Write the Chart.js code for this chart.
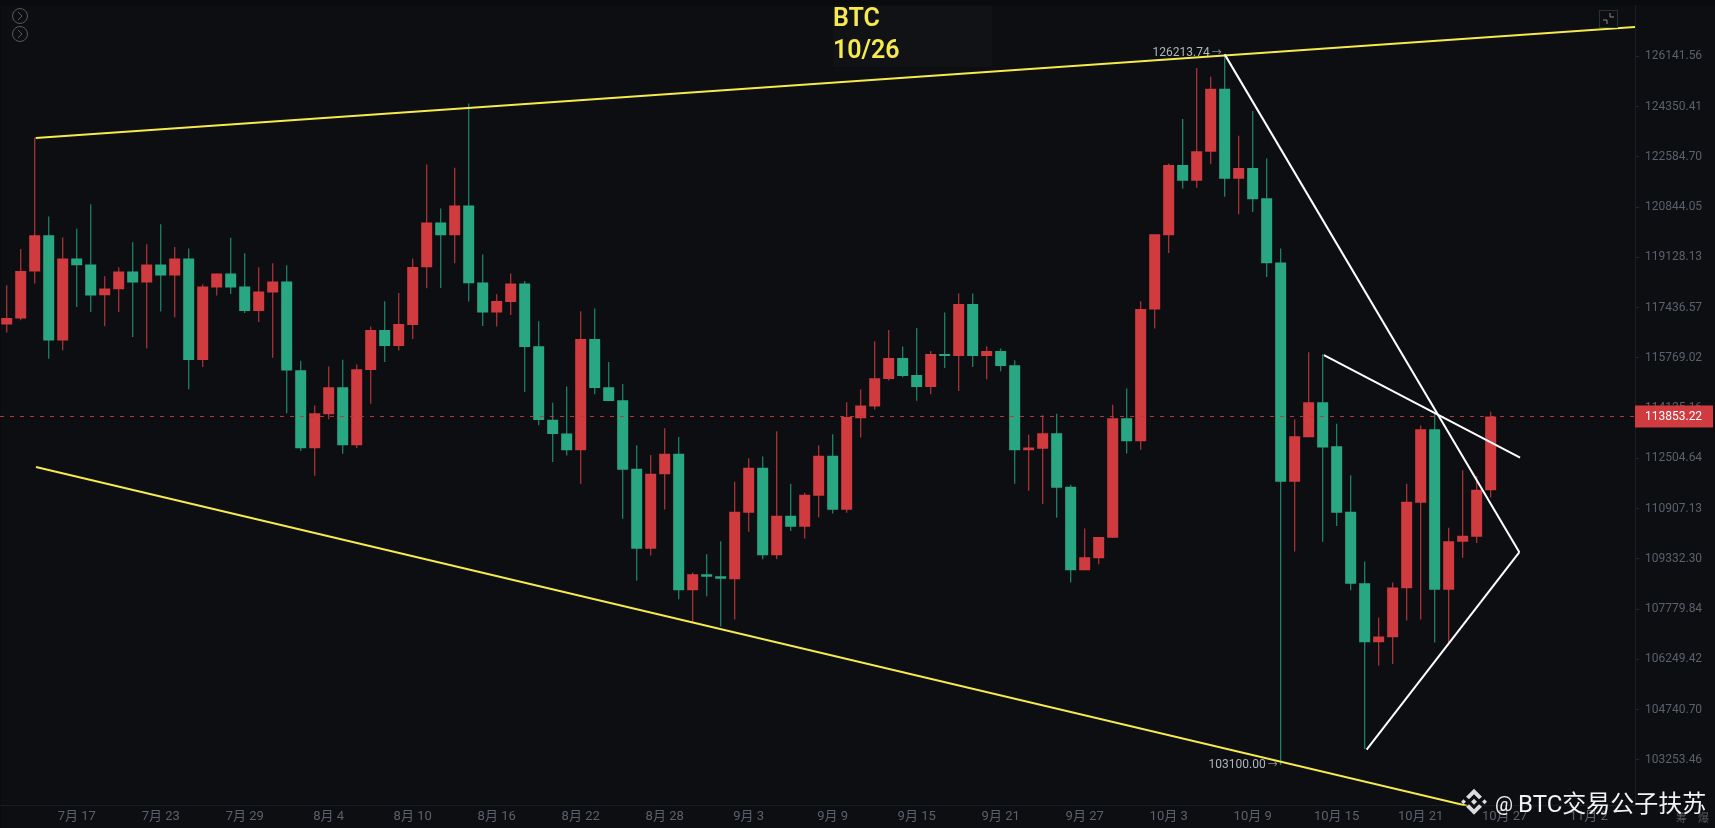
<!DOCTYPE html>
<html>
<head>
<meta charset="utf-8">
<title>BTC 10/26</title>
<script src="https://cdn.jsdelivr.net/npm/chart.js@4/dist/chart.umd.min.js"></script>
<style>
  html, body { margin: 0; padding: 0; background: #0a0b0d; overflow: hidden; }
  canvas { display: block; }
</style>
</head>
<body>
<canvas id="chart" width="1715" height="828"></canvas>
<script>
// daily candles, 7/12 to 10/26 (index 0 = 7/12)
const opens = [
  116872,117072,118650,119884,116341,119088,118885,117851,118053,118650,
  118279,118885,118515,119088,115697,118110,118582,118144,117324,117942,
  118312,115360,112824,113922,114803,112921,115369,116693,116161,116859,
  118794,120318,119884,120900,118279,117271,117625,118245,116150,113750,
  113299,112760,116394,114803,114377,112174,109646,111993,112653,108361,
  108856,108794,108700,110775,112206,109445,110681,110336,111315,112588,
  110869,113793,114180,115075,115762,115206,114813,115895,115829,117558,
  115829,115995,115523,112760,112814,113308,111601,108979,109351,109988,
  113793,113050,117371,119884,122297,121753,122761,124986,121822,122193,
  121152,118953,111760,113179,114312,112889,110807,108577,106768,106921,
  108423,111092,113437,108373,109866,110022,111484
];
const closes = [
  117091,118670,119884,116341,119088,118862,117841,118077,118650,118279,
  118885,118515,119088,115697,118144,118582,118110,117324,117975,118312,
  115350,112824,113954,114803,112921,115392,116693,116161,116892,118804,
  120318,119884,120900,118255,117271,117659,118245,116128,113738,113286,
  112760,116394,114780,114354,112142,109646,112015,112653,108361,108856,
  108775,108713,110807,112206,109445,110681,110336,111346,112588,110869,
  113834,114213,115098,115762,115173,114813,115895,115829,117558,115829,
  115995,115500,112760,112856,113308,111569,108979,109382,110010,113793,
  113050,117390,119918,122297,121753,122785,124986,121822,122193,121118,
  118929,111760,113211,114312,112856,110775,108559,106768,106942,108444,
  111124,113437,108373,109884,110054,111506,113853.22
];
const highs = [
  118188,119415,123253,120523,119805,120099,120945,118491,118794,119644,
  119576,120260,119484,119429,118221,118582,119791,119268,118794,118929,
  118862,115677,114213,115481,115710,115546,116806,117649,117928,119088,
  122321,120796,122204,124465,119224,117884,118582,118333,116982,114302,
  114826,117314,117404,115631,114911,112921,112608,113470,113189,108908,
  109477,109884,111760,112511,112566,113373,111697,111410,112921,113276,
  114312,114728,116317,116693,116141,116759,115995,117271,117908,117908,
  116150,116075,115687,113266,113889,113944,111665,110283,110010,114236,
  114760,117649,119918,122356,123910,125725,125414,126213.74,123323,124192,
  122530,119429,113751,115952,115886,113621,111961,109248,107521,108599,
  111697,113557,113922,110305,112120,111939,114009
];
const lows = [
  116606,117015,118245,115743,116018,117456,117291,116816,117291,116460,
  116075,117304,117115,114737,115468,117841,117895,117258,116959,115776,
  113954,112737,111951,113760,112653,112834,114269,115631,116009,116394,
  118087,118097,118929,117638,116826,116806,117191,114649,113567,112384,
  112598,111684,114574,114354,110587,108652,109436,110879,108082,107378,
  108175,107247,107460,110179,109320,109320,110198,109969,110637,110753,
  110775,113170,114083,115022,115130,114367,114574,115435,114682,115468,
  115065,115327,111697,111474,111048,110618,108599,108979,109165,109988,
  112663,112782,116739,119279,121476,121510,122332,121198,120601,120680,
  118467,103100,109561,113179,109866,110355,108361,103574,106060,106111,
  107429,107460,106759,106698,109363,109822,111261
];

const priceTicks = [
  126141.56,124350.41,122584.70,120844.05,119128.13,117436.57,115769.02,114125.16,
  112504.64,110907.13,109332.30,107779.84,106249.42,104740.70,103253.46
];
const dateTicks = [5,11,17,23,29,35,41,47,53,59,65,71,77,83,89,95,101,107,113];
const dateLabels = [
  "7月 17","7月 23","7月 29","8月 4","8月 10","8月 16","8月 22","8月 28","9月 3","9月 9",
  "9月 15","9月 21","9月 27","10月 3","10月 9","10月 15","10月 21","10月 27","11月 2"
];

// drawn trend lines, as [candle index, price]
const upperLine = [[2.07,123242],[116.31,127197]];
const lowerLine = [[2.09,112225],[104.29,101912]];
const fallLine = [[87,126213.74],[108.05,109539]];
const pennantTop = [[94.09,115862],[108.1,112524]];
const pennantBottom = [[97.14,103553],[108.05,109539]];

const lastPrice = 113853.22;
const topLabel = 126213.74;
const bottomLabel = 103100.00;

const UP = "#d03b3f";
const DOWN = "#29a782";
const UP_WICK = "#a83236";
const DOWN_WICK = "#1f8066";
const BG = "#0c0e11";
const YELLOW = "#f6ea4e";
const GREY = "#5b616b";
const FONT = 'Roboto, "Noto Sans CJK SC", sans-serif';

const points = arr => arr.map(p => ({ x: p[0], y: p[1] }));
const candleColor = ctx => (closes[ctx.dataIndex] >= opens[ctx.dataIndex] ? UP : DOWN);
const wickColor = ctx => (closes[ctx.dataIndex] >= opens[ctx.dataIndex] ? UP_WICK : DOWN_WICK);

function trendLine(arr, color, order) {
  return {
    type: "line",
    data: points(arr),
    borderColor: color,
    borderWidth: 2,
    pointRadius: 0,
    order: order
  };
}

// background, title plate and everything that sits on top of the scales
const extras = {
  id: "extras",
  beforeDraw(chart) {
    const { ctx, chartArea } = chart;
    ctx.save();
    ctx.fillStyle = BG;
    ctx.fillRect(chartArea.left + 1, chartArea.top, 1715, chart.height);
    ctx.fillStyle = "#101215";
    ctx.fillRect(833, 6, 159, 61);
    ctx.restore();
  },
  afterDraw(chart) {
    const { ctx, scales } = chart;
    const x = scales.x, y = scales.y;
    ctx.save();

    // title
    ctx.fillStyle = YELLOW;
    ctx.font = '600 25px ' + FONT;
    ctx.textAlign = "left";
    ctx.textBaseline = "alphabetic";
    ctx.fillText("BTC", 833, 26);
    ctx.fillText("10/26", 833, 57.5);

    // high and low labels, text and arrow apart
    const priceLabel = (value, i, dy) => {
      const px = x.getPixelForValue(i), py = y.getPixelForValue(value) + dy;
      ctx.textAlign = "right";
      ctx.textBaseline = "middle";
      ctx.font = '12px ' + FONT;
      ctx.fillStyle = "#aeb4bc";
      ctx.fillText(value.toFixed(2), px - 15, py);
      ctx.font = '10px ' + FONT;
      ctx.fillStyle = "#8a8f96";
      ctx.fillText("→", px - 3, py);
    };
    priceLabel(topLabel, 87, -1);
    priceLabel(bottomLabel, 91, 0);

    // last price tag
    const tagY = y.getPixelForValue(lastPrice);
    ctx.fillStyle = UP;
    ctx.fillRect(1635, tagY - 11, 78, 22);
    ctx.fillStyle = "#ffffff";
    ctx.font = '12px ' + FONT;
    ctx.textAlign = "left";
    ctx.fillText(lastPrice.toFixed(2), 1645, tagY + 0.5);

    // top left buttons
    ctx.strokeStyle = "#55585d";
    ctx.lineWidth = 1;
    [16, 34].forEach(cy => {
      ctx.beginPath();
      ctx.arc(20, cy, 7.5, 0, Math.PI * 2);
      ctx.stroke();
      ctx.beginPath();
      ctx.moveTo(18, cy - 4);
      ctx.lineTo(22, cy);
      ctx.lineTo(18, cy + 4);
      ctx.stroke();
    });

    // collapse icon
    ctx.strokeStyle = "#22333b";
    ctx.strokeRect(1599.5, 10.5, 18, 17);
    ctx.strokeStyle = "#8a8a80";
    ctx.beginPath();
    ctx.moveTo(1603, 20);
    ctx.lineTo(1607, 20);
    ctx.lineTo(1607, 24);
    ctx.moveTo(1610, 13);
    ctx.lineTo(1610, 17);
    ctx.lineTo(1614, 17);
    ctx.stroke();

    // bottom right tabs
    ctx.fillStyle = "#55585d";
    ctx.font = '11px "Noto Sans CJK SC"';
    ctx.fillText("筹", 1676, 818);
    ctx.fillText("爆", 1698, 818);

    // watermark
    ctx.fillStyle = "#dcdcdc";
    const lx = 1474, ly = 801.7;
    const diamond = (cx, cy, r) => {
      ctx.beginPath();
      ctx.moveTo(cx, cy - r);
      ctx.lineTo(cx + r, cy);
      ctx.lineTo(cx, cy + r);
      ctx.lineTo(cx - r, cy);
      ctx.closePath();
      ctx.fill();
    };
    diamond(lx, ly, 3);
    diamond(lx - 10.5, ly, 2.5);
    diamond(lx + 10.5, ly, 2.5);
    [-1, 1].forEach(s => {
      ctx.beginPath();
      ctx.moveTo(lx, ly + s * 13);
      ctx.lineTo(lx + 8, ly + s * 5);
      ctx.lineTo(lx + 5, ly + s * 2.5);
      ctx.lineTo(lx, ly + s * 7.5);
      ctx.lineTo(lx - 5, ly + s * 2.5);
      ctx.lineTo(lx - 8, ly + s * 5);
      ctx.closePath();
      ctx.fill();
    });
    ctx.fillStyle = "#f2f2f2";
    ctx.textAlign = "left";
    ctx.textBaseline = "alphabetic";
    ctx.font = '20px Roboto';
    ctx.fillText("@", 1495, 810.5);
    ctx.font = '24px Roboto, "Noto Sans CJK SC"';
    ctx.fillText("BTC交易公子扶苏", 1518, 811.5);
    ctx.restore();
  }
};

// tick labels near the edges must not eat into the plot area
function noEdgePadding(scale) {
  scale.paddingTop = 0;
  scale.paddingBottom = 0;
  scale.paddingLeft = 0;
  scale.paddingRight = 0;
}

new Chart(document.getElementById("chart"), {
  type: "bar",
  data: {
    datasets: [
      {
        data: lows.map((l, i) => ({ x: i, y: [l, highs[i]] })),
        backgroundColor: wickColor,
        barThickness: 1.3,
        grouped: false,
        inflateAmount: 0,
        order: 5
      },
      {
        data: opens.map((o, i) => ({ x: i, y: [o, closes[i]] })),
        backgroundColor: candleColor,
        barThickness: 11,
        minBarLength: 2,
        grouped: false,
        inflateAmount: 0,
        order: 4
      },
      {
        type: "line",
        data: [{ x: -0.48, y: lastPrice }, { x: 116.31, y: lastPrice }],
        borderColor: "#c0363a",
        borderWidth: 1,
        borderDash: [4, 6],
        pointRadius: 0,
        order: 3
      },
      trendLine(upperLine, YELLOW, 2),
      trendLine(lowerLine, YELLOW, 2),
      trendLine(fallLine, "#ffffff", 1),
      trendLine(pennantTop, "#ffffff", 1),
      trendLine(pennantBottom, "#ffffff", 1)
    ]
  },
  options: {
    responsive: false,
    animation: false,
    layout: { padding: { top: 5, left: 0, right: 0, bottom: 0 } },
    plugins: { legend: { display: false }, tooltip: { enabled: false }, title: { display: false } },
    scales: {
      x: {
        type: "linear",
        offset: false,
        min: -0.479,
        max: 116.31,
        afterBuildTicks: scale => { scale.ticks = dateTicks.map(v => ({ value: v })); },
        afterFit: scale => { scale.height = 22.3; noEdgePadding(scale); },
        grid: { display: false, drawTicks: false, offset: false },
        border: { color: "#1a1d21" },
        ticks: {
          autoSkip: false,
          maxRotation: 0,
          padding: 3,
          color: GREY,
          font: { family: FONT, size: 13 },
          callback: v => dateLabels[dateTicks.indexOf(v)]
        }
      },
      y: {
        type: "logarithmic",
        position: "right",
        min: 101913,
        max: 128000,
        afterBuildTicks: scale => { scale.ticks = priceTicks.map(v => ({ value: v })); },
        afterFit: scale => { scale.width = 80; noEdgePadding(scale); },
        grid: { drawOnChartArea: false, drawTicks: true, tickLength: 4, color: "#23272d" },
        border: { color: "#1a1d21" },
        ticks: {
          autoSkip: false,
          padding: 6,
          color: GREY,
          font: { family: FONT, size: 12 },
          callback: v => v.toFixed(2)
        }
      }
    }
  },
  plugins: [extras]
});
</script>
</body>
</html>
